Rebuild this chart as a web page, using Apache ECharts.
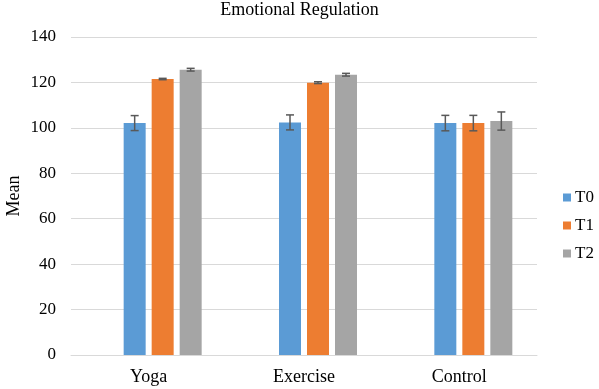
<!DOCTYPE html>
<html><head><meta charset="utf-8">
<script src="https://cdn.jsdelivr.net/npm/echarts@6/dist/echarts.min.js"></script>
<style>html,body{margin:0;padding:0;background:#fff}#c{width:599px;height:389px}</style>
</head><body><div id="c"></div>
<script>
var categories = ['Yoga', 'Exercise', 'Control'];
var seriesNames = ['T0', 'T1', 'T2'];
var t0 = [102.1, 102.4, 102.1];
var t1 = [121.5, 119.9, 102.1];
var t2 = [125.6, 123.4, 103.0];
var t0Err = [3.3, 3.3, 3.4];
var t1Err = [0.3, 0.4, 3.4];
var t2Err = [0.6, 0.6, 4.0];
var yTicks = [0, 20, 40, 60, 80, 100, 120, 140];

var colors = ['#5B9BD5', '#ED7D31', '#A5A5A5'];
var values = [t0, t1, t2];
var errs = [t0Err, t1Err, t2Err];
var BAR_W = 22, GAP = 6, SLOTS = 4;
var font = '"Liberation Serif", "Times New Roman", serif';

var chart = echarts.init(document.getElementById('c'));

function errRender(si) {
  return function (params, api) {
    var ci = api.value(0);
    var v = api.value(1), e = api.value(2);
    var base = api.coord([ci, 0]);
    var total = SLOTS * BAR_W + (SLOTS - 1) * GAP;
    var slot = si + 1;
    var x = base[0] - total / 2 + slot * (BAR_W + GAP) + BAR_W / 2;
    var yHi = api.coord([ci, v + e])[1];
    var yLo = api.coord([ci, v - e])[1];
    var cap = 4;
    var st = { stroke: '#595959', lineWidth: 1.5 };
    return {
      type: 'group',
      children: [
        { type: 'line', shape: { x1: x, y1: yHi, x2: x, y2: yLo }, style: st },
        { type: 'line', shape: { x1: x - cap, y1: yHi, x2: x + cap, y2: yHi }, style: st },
        { type: 'line', shape: { x1: x - cap, y1: yLo, x2: x + cap, y2: yLo }, style: st }
      ]
    };
  };
}

var series = [{
  name: 'pad', type: 'bar', barWidth: BAR_W, barGap: (GAP / BAR_W * 100) + '%',
  data: categories.map(function () { return null; }), silent: true
}];
seriesNames.forEach(function (n, i) {
  series.push({
    name: n, type: 'bar', barWidth: BAR_W, barGap: (GAP / BAR_W * 100) + '%',
    itemStyle: { color: colors[i] },
    data: values[i]
  });
});
seriesNames.forEach(function (n, i) {
  series.push({
    type: 'custom', renderItem: errRender(i), z: 10,
    data: categories.map(function (c, ci) { return [ci, values[i][ci], errs[i][ci]]; })
  });
});

chart.setOption({
  animation: false,
  color: ['#ffffff'].concat(colors),
  title: {
    text: 'Emotional Regulation', left: 'center', top: -4,
    textStyle: { fontFamily: font, fontSize: 18, fontWeight: 'normal', color: '#000' }
  },
  legend: {
    data: seriesNames, orient: 'vertical', left: 558, top: 184,
    itemWidth: 8, itemHeight: 8, itemGap: 11, icon: 'rect',
    textStyle: { fontFamily: font, fontSize: 17, color: '#000', padding: [0, 0, 0, -1] }
  },
  grid: { left: 71, right: 62, top: 37, bottom: 34, containLabel: false, outerBoundsMode: 'none' },
  xAxis: {
    type: 'category', data: categories,
    axisLine: { lineStyle: { color: '#D9D9D9', width: 1 } },
    axisTick: { show: false },
    axisLabel: { fontFamily: font, fontSize: 18, color: '#000', margin: 13 }
  },
  yAxis: {
    type: 'value', min: yTicks[0], max: yTicks[yTicks.length - 1], interval: yTicks[1] - yTicks[0],
    name: 'Mean', nameLocation: 'middle', nameGap: 48, nameRotate: 90, nameMoveOverlap: false,
    nameTextStyle: { fontFamily: font, fontSize: 18, color: '#000' },
    axisLine: { show: false }, axisTick: { show: false },
    axisLabel: { fontFamily: font, fontSize: 17, color: '#000', margin: 15 },
    splitLine: { lineStyle: { color: '#D9D9D9', width: 1 } }
  },
  series: series
});
</script></body></html>
